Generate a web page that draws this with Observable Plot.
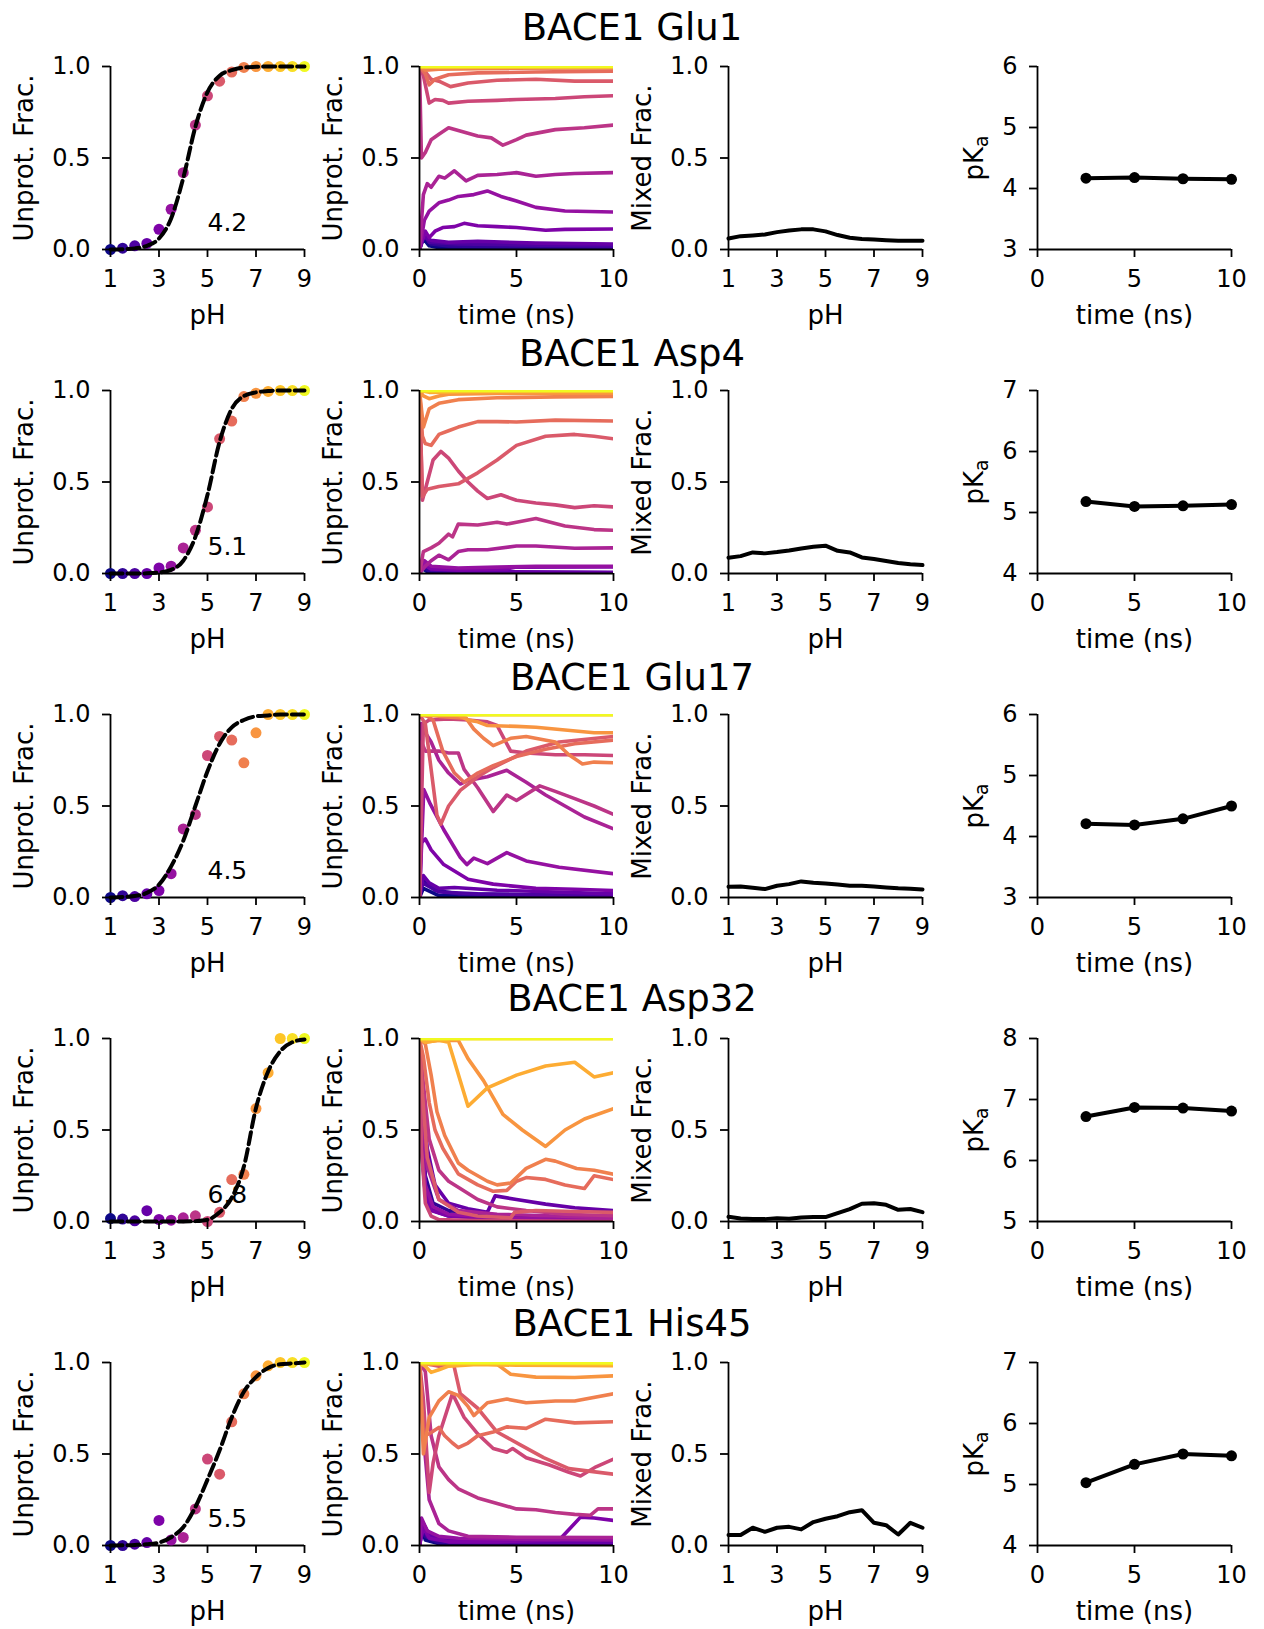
<!DOCTYPE html>
<html>
<head>
<meta charset="utf-8">
<script src="https://cdn.jsdelivr.net/npm/d3@7"></script>
<script src="https://cdn.jsdelivr.net/npm/@observablehq/plot@0.6"></script>
<style>
  body { margin: 0; background: #fff; font-family: "DejaVu Sans", sans-serif; }
  #fig { position: relative; width: 1264px; height: 1629px; overflow: hidden; background: #fff; }
  .title { position: absolute; left: 0; width: 1264px; text-align: center; font-size: 37px; line-height: 37px; color: #000; white-space: nowrap; }
  .panel { position: absolute; }
</style>
</head>
<body>
<div id="fig"></div>
<script>
// ---------------- DATA ----------------
const residues = ["BACE1 Glu1", "BACE1 Asp4", "BACE1 Glu17", "BACE1 Asp32", "BACE1 His45"];
const pKaLabels = ["4.2", "5.1", "4.5", "6.8", "5.5"];
const pHValues = [1, 1.5, 2, 2.5, 3, 3.5, 4, 4.5, 5, 5.5, 6, 6.5, 7, 7.5, 8, 8.5, 9];
const pHTicks = [1, 3, 5, 7, 9];
const fracTicks = [0, 0.5, 1];
const timeTicks = [0, 5, 10];

// Unprotonated fraction per pH (dots)
const glu1Unprot  = [0.0, 0.007, 0.02, 0.033, 0.11, 0.22, 0.42, 0.68, 0.84, 0.92, 0.97, 0.995, 1.0, 1.0, 1.0, 1.0, 1.0];
const asp4Unprot  = [0.0, 0.0, 0.0, 0.0, 0.03, 0.04, 0.14, 0.236, 0.364, 0.736, 0.833, 0.967, 0.985, 0.995, 1.0, 1.0, 1.0];
const glu17Unprot = [0.0, 0.01, 0.005, 0.02, 0.038, 0.13, 0.375, 0.454, 0.776, 0.88, 0.86, 0.736, 0.9, 1.0, 1.0, 1.0, 1.0];
const asp32Unprot = [0.016, 0.013, 0.004, 0.059, 0.011, 0.007, 0.02, 0.031, 0.0, 0.05, 0.229, 0.258, 0.617, 0.813, 1.0, 1.0, 1.0];
const his45Unprot = [0.0, 0.0, 0.007, 0.016, 0.137, 0.03, 0.044, 0.2, 0.472, 0.39, 0.676, 0.829, 0.927, 0.982, 1.0, 1.0, 1.0];

// Fitted titration curve read at each pH (dashed)
const glu1Fit  = [0.0, 0.002, 0.006, 0.02, 0.06, 0.17, 0.39, 0.67, 0.86, 0.95, 0.98, 0.995, 0.998, 1.0, 1.0, 1.0, 1.0];
const asp4Fit  = [0.0, 0.0, 0.0, 0.001, 0.005, 0.02, 0.07, 0.2, 0.43, 0.72, 0.9, 0.97, 0.99, 0.997, 1.0, 1.0, 1.0];
const glu17Fit = [0.0, 0.003, 0.008, 0.025, 0.07, 0.17, 0.31, 0.5, 0.69, 0.84, 0.93, 0.97, 0.99, 0.995, 1.0, 1.0, 1.0];
const asp32Fit = [0.0, 0.0, 0.0, 0.0, 0.0, 0.0, 0.0, 0.002, 0.01, 0.05, 0.13, 0.3, 0.62, 0.82, 0.93, 0.98, 0.995];
const his45Fit = [0.0, 0.001, 0.003, 0.007, 0.016, 0.045, 0.1, 0.21, 0.36, 0.52, 0.7, 0.84, 0.92, 0.97, 0.99, 0.995, 1.0];

// Mixed fraction per pH
const glu1Mixed  = [0.06, 0.073, 0.077, 0.082, 0.095, 0.104, 0.11, 0.11, 0.099, 0.079, 0.064, 0.057, 0.055, 0.051, 0.048, 0.048, 0.048];
const asp4Mixed  = [0.086, 0.095, 0.115, 0.11, 0.117, 0.126, 0.137, 0.146, 0.152, 0.124, 0.115, 0.088, 0.079, 0.068, 0.057, 0.05, 0.046];
const glu17Mixed = [0.059, 0.06, 0.053, 0.046, 0.064, 0.073, 0.088, 0.08, 0.077, 0.071, 0.064, 0.064, 0.06, 0.055, 0.05, 0.048, 0.044];
const asp32Mixed = [0.026, 0.016, 0.013, 0.013, 0.018, 0.015, 0.022, 0.024, 0.024, 0.046, 0.068, 0.097, 0.1, 0.091, 0.064, 0.068, 0.051];
const his45Mixed = [0.057, 0.057, 0.097, 0.075, 0.097, 0.102, 0.088, 0.128, 0.146, 0.16, 0.182, 0.193, 0.124, 0.111, 0.06, 0.124, 0.097];

// pKa vs simulation time
const pKaTimes = [2.5, 5, 7.5, 10];
const glu1PKa  = [4.17, 4.18, 4.16, 4.15];
const asp4PKa  = [5.18, 5.10, 5.11, 5.13];
const glu17PKa = [4.21, 4.19, 4.29, 4.50];
const asp32PKa = [6.72, 6.87, 6.86, 6.81];
const his45PKa = [5.03, 5.33, 5.50, 5.47];
const pKaDomains = [[3, 6], [4, 7], [3, 6], [5, 8], [4, 7]];

// Running unprotonated fraction vs time (ns), one series per pH: [time, value]
const glu1Traj = [
  [[0,0],[0.2,0.06],[0.5,0.02],[1,0.01],[3,0.005],[10,0.0]],
  [[0,0],[0.2,0.08],[0.6,0.03],[1.5,0.02],[4,0.015],[10,0.01]],
  [[0,0],[0.15,0.1],[0.5,0.04],[2,0.03],[5,0.025],[10,0.02]],
  [[0,0],[0.2,0.07],[0.6,0.05],[1.5,0.04],[3,0.045],[6,0.035],[10,0.03]],
  [[0,0],[0.3,0.1],[0.5,0.065],[0.8,0.1],[1.2,0.12],[1.8,0.125],[2.3,0.143],[3,0.13],[4,0.125],[5,0.12],[6.5,0.105],[7.5,0.11],[10,0.112]],
  [[0,0],[0.25,0.16],[0.5,0.21],[1,0.255],[1.5,0.27],[2,0.29],[2.8,0.3],[3.5,0.32],[4.2,0.29],[5,0.265],[6,0.23],[7.5,0.21],[10,0.205]],
  [[0,0],[0.2,0.3],[0.4,0.36],[0.6,0.34],[1,0.4],[1.3,0.39],[1.8,0.43],[2.4,0.375],[3,0.405],[4,0.41],[5,0.42],[6,0.4],[7,0.41],[8,0.415],[10,0.42]],
  [[0,1],[0.1,0.5],[0.3,0.53],[0.6,0.6],[1,0.63],[1.5,0.665],[2,0.65],[3,0.62],[3.7,0.61],[4.3,0.57],[5,0.6],[5.5,0.625],[7,0.655],[8.5,0.665],[10,0.68]],
  [[0,1],[0.2,0.95],[0.5,0.8],[0.8,0.82],[1.2,0.815],[1.5,0.8],[2.5,0.81],[4,0.815],[5,0.82],[7,0.825],[8.5,0.835],[10,0.84]],
  [[0,1],[0.3,0.97],[0.6,0.93],[1,0.92],[1.6,0.89],[2.5,0.91],[4,0.925],[6,0.93],[8,0.92],[10,0.92]],
  [[0,1],[0.3,0.96],[0.5,0.9],[0.8,0.93],[1.5,0.955],[3,0.965],[6,0.97],[10,0.975]],
  [[0,1],[0.3,0.98],[1,0.985],[4,0.99],[10,0.992]],
  [[0,1],[1,0.995],[10,0.998]],
  [[0,1],[10,1]],
  [[0,1],[10,1]],
  [[0,1],[10,1]],
  [[0,1],[10,1]]
];
const asp4Traj = [
  [[0,0],[0.1,0.03],[0.4,0.01],[2,0.003],[10,0]],
  [[0,0],[0.15,0.04],[0.5,0.015],[3,0.005],[10,0.002]],
  [[0,0],[0.2,0.05],[0.6,0.02],[3,0.008],[10,0.004]],
  [[0,0],[0.2,0.06],[0.8,0.025],[4,0.01],[10,0.006]],
  [[0,0],[0.2,0.05],[0.6,0.025],[2,0.02],[4.5,0.025],[5,0.035],[10,0.036]],
  [[0,0],[0.25,0.07],[0.6,0.04],[2,0.03],[4,0.035],[6,0.04],[10,0.04]],
  [[0,0],[0.3,0.04],[0.6,0.07],[1,0.1],[1.5,0.075],[2,0.12],[2.5,0.13],[3.5,0.13],[5,0.15],[6,0.15],[8,0.138],[10,0.14]],
  [[0,0],[0.2,0.12],[0.6,0.14],[1,0.165],[1.5,0.215],[1.7,0.2],[2,0.27],[3,0.265],[4,0.28],[4.5,0.27],[5,0.28],[6,0.3],[7.5,0.26],[9,0.24],[10,0.236]],
  [[0,1],[0.15,0.4],[0.4,0.5],[0.7,0.62],[1.1,0.667],[1.5,0.63],[2,0.56],[2.5,0.5],[3,0.45],[3.5,0.41],[4.2,0.43],[5,0.4],[6,0.385],[7,0.375],[8,0.36],[9,0.37],[10,0.364]],
  [[0,1],[0.15,0.42],[0.4,0.46],[1,0.475],[2,0.49],[2.5,0.52],[3,0.55],[4,0.62],[5,0.7],[6.5,0.75],[8,0.76],[9,0.75],[10,0.736]],
  [[0,1],[0.15,0.75],[0.3,0.71],[0.6,0.7],[1,0.76],[1.5,0.78],[2,0.8],[3,0.83],[4,0.83],[5,0.828],[7,0.838],[10,0.833]],
  [[0,1],[0.2,0.8],[0.5,0.9],[1,0.93],[2,0.95],[4,0.96],[7,0.965],[10,0.967]],
  [[0,1],[0.2,0.97],[0.5,0.955],[1,0.97],[1.5,0.98],[4,0.984],[10,0.985]],
  [[0,1],[0.5,0.99],[3,0.994],[10,0.995]],
  [[0,1],[10,1]],
  [[0,1],[10,1]],
  [[0,1],[10,1]]
];
const glu17Traj = [
  [[0,0],[0.2,0.05],[1,0.01],[10,0]],
  [[0,0],[0.2,0.1],[0.8,0.04],[2,0.02],[10,0.01]],
  [[0,0],[0.15,0.08],[1,0.03],[3,0.02],[10,0.008]],
  [[0,0],[0.2,0.12],[0.5,0.08],[1,0.05],[1.8,0.055],[4,0.04],[7,0.03],[10,0.02]],
  [[0,0],[0.1,0.3],[0.3,0.32],[0.6,0.26],[1.25,0.18],[2.5,0.1],[3.8,0.073],[6,0.05],[8,0.045],[10,0.038]],
  [[0,0],[0.22,0.59],[0.56,0.51],[1.25,0.37],[2.1,0.22],[2.44,0.18],[2.8,0.215],[3.5,0.185],[4.5,0.245],[5.5,0.2],[7.2,0.165],[10,0.13]],
  [[0,0],[0.1,0.95],[0.3,0.9],[0.6,0.85],[1,0.75],[1.5,0.68],[2.1,0.62],[2.5,0.64],[3.5,0.66],[4.5,0.695],[5.5,0.63],[6.5,0.56],[7.5,0.5],[8.5,0.44],[10,0.375]],
  [[0,0],[0.1,0.85],[0.3,0.8],[0.6,0.8],[1,0.8],[1.5,0.79],[2,0.79],[2.3,0.7],[3,0.6],[3.8,0.47],[4.5,0.56],[5,0.53],[6.2,0.61],[7,0.58],[8,0.54],[9,0.5],[10,0.454]],
  [[0,0],[0.2,0.95],[0.5,0.97],[1.5,0.975],[2.5,0.97],[3.5,0.96],[4,0.94],[4.7,0.8],[5.5,0.79],[7,0.78],[8.5,0.78],[10,0.776]],
  [[0,1],[0.3,0.95],[0.6,0.7],[0.9,0.45],[1.1,0.4],[1.5,0.5],[2.1,0.585],[3,0.66],[3.8,0.71],[5.5,0.8],[7.2,0.85],[10,0.88]],
  [[0,1],[0.4,0.99],[0.7,0.97],[1.2,0.8],[1.8,0.68],[2.3,0.63],[3,0.68],[3.8,0.72],[5,0.77],[6.5,0.81],[8,0.84],[10,0.86]],
  [[0,1],[1,0.99],[2.4,0.98],[2.8,0.92],[3.3,0.87],[3.8,0.83],[4.7,0.87],[5.5,0.88],[7,0.85],[7.7,0.78],[8.4,0.73],[9,0.74],[10,0.736]],
  [[0,1],[2,0.995],[2.5,0.97],[3,0.96],[3.5,0.94],[5,0.935],[6,0.93],[7.5,0.915],[9,0.9],[10,0.9]],
  [[0,1],[10,1]],
  [[0,1],[10,1]],
  [[0,1],[10,1]],
  [[0,1],[10,1]]
];
const asp32Traj = [
  [[0,1],[0.1,0.5],[0.3,0.2],[0.6,0.08],[1,0.05],[2,0.035],[4,0.025],[7,0.02],[10,0.016]],
  [[0,1],[0.1,0.6],[0.3,0.25],[0.7,0.1],[1.5,0.06],[3,0.04],[6,0.025],[10,0.013]],
  [[0,1],[0.1,0.4],[0.3,0.15],[0.7,0.06],[1.5,0.03],[4,0.015],[10,0.004]],
  [[0,1],[0.15,0.7],[0.4,0.4],[0.8,0.2],[1.5,0.1],[2.5,0.07],[3.5,0.05],[3.9,0.14],[5,0.12],[6.5,0.095],[8,0.075],[10,0.059]],
  [[0,1],[0.1,0.45],[0.3,0.15],[0.6,0.06],[1.5,0.03],[4,0.015],[10,0.011]],
  [[0,1],[0.1,0.5],[0.3,0.2],[0.7,0.08],[1.5,0.04],[4,0.02],[10,0.007]],
  [[0,1],[0.15,0.6],[0.4,0.3],[1,0.12],[2,0.06],[4,0.04],[7,0.03],[10,0.02]],
  [[0,1],[0.2,0.75],[0.5,0.45],[1,0.28],[1.5,0.22],[2.1,0.18],[3,0.12],[4,0.08],[5.5,0.06],[7.5,0.04],[10,0.031]],
  [[0,1],[0.1,0.4],[0.3,0.1],[0.6,0.03],[1,0.01],[3,0.005],[10,0.0]],
  [[0,1],[0.15,0.7],[0.4,0.35],[1,0.12],[2,0.05],[3,0.03],[4.7,0.02],[4.9,0.05],[6,0.06],[8,0.055],[10,0.05]],
  [[0,1],[0.2,0.9],[0.5,0.65],[0.8,0.5],[1.2,0.4],[2,0.26],[3,0.2],[3.8,0.165],[4.5,0.17],[5,0.22],[5.5,0.24],[6.5,0.23],[7.5,0.2],[8.5,0.18],[9,0.25],[10,0.229]],
  [[0,1],[0.3,0.97],[0.6,0.8],[0.9,0.6],[1.3,0.47],[2,0.32],[2.5,0.28],[3.5,0.22],[4,0.2],[4.7,0.21],[5.2,0.26],[5.5,0.29],[6.5,0.34],[7,0.33],[8.1,0.29],[9,0.28],[10,0.258]],
  [[0,1],[0.3,0.98],[1,0.99],[2,0.99],[2.5,0.89],[3.3,0.77],[4.3,0.585],[5.3,0.5],[6.5,0.41],[7.5,0.5],[8.5,0.56],[10,0.617]],
  [[0,1],[0.3,0.98],[1,0.99],[1.5,0.98],[2.5,0.63],[3.5,0.73],[5,0.8],[6.5,0.85],[8,0.87],[9,0.79],[10,0.813]],
  [[0,1],[10,1]],
  [[0,1],[10,1]],
  [[0,1],[10,1]]
];
const his45Traj = [
  [[0,0],[0.1,0.1],[0.3,0.03],[1,0.01],[10,0]],
  [[0,0],[0.1,0.12],[0.3,0.05],[1,0.015],[10,0.003]],
  [[0,0],[0.15,0.1],[0.4,0.05],[1.5,0.02],[10,0.007]],
  [[0,0],[0.2,0.12],[0.5,0.06],[1.5,0.03],[5,0.02],[10,0.016]],
  [[0,0],[0.2,0.1],[0.5,0.04],[1.5,0.02],[4,0.02],[7.2,0.03],[8.3,0.155],[9,0.15],[10,0.137]],
  [[0,0],[0.1,0.15],[0.4,0.08],[1,0.05],[2,0.04],[5,0.035],[10,0.03]],
  [[0,1],[0.2,0.6],[0.5,0.25],[1,0.12],[1.5,0.08],[2.5,0.05],[5,0.045],[10,0.044]],
  [[0,1],[0.3,0.95],[0.6,0.6],[1,0.43],[1.5,0.36],[2,0.31],[3,0.26],[4,0.23],[5,0.2],[6,0.195],[7,0.18],[8,0.17],[8.8,0.165],[9.2,0.2],[10,0.2]],
  [[0,1],[0.2,0.8],[0.5,0.29],[0.7,0.45],[1,0.6],[1.7,0.83],[2.3,0.7],[3,0.61],[3.8,0.53],[4.5,0.51],[4.8,0.53],[5.5,0.48],[6.7,0.44],[7.7,0.4],[8.3,0.38],[9.1,0.43],[10,0.472]],
  [[0,1],[1,0.98],[1.76,0.99],[2.1,0.83],[3,0.75],[4,0.62],[5.2,0.55],[6.4,0.48],[7.7,0.42],[10,0.39]],
  [[0,1],[0.2,0.6],[0.5,0.61],[1,0.645],[1.3,0.6],[1.7,0.56],[2,0.535],[2.5,0.56],[3,0.6],[3.8,0.62],[4.5,0.648],[5.5,0.64],[6.5,0.69],[8,0.67],[10,0.676]],
  [[0,1],[0.2,0.5],[0.5,0.7],[1,0.79],[1.5,0.84],[2,0.82],[2.5,0.76],[2.8,0.71],[3.5,0.78],[4.5,0.8],[5.5,0.78],[7,0.79],[8,0.79],[10,0.829]],
  [[0,1],[0.5,0.99],[2,0.995],[4,0.99],[4.7,0.936],[6,0.92],[8,0.918],[10,0.927]],
  [[0,1],[0.3,0.98],[0.6,0.946],[1,0.96],[1.5,0.98],[3,0.99],[5,0.985],[10,0.982]],
  [[0,1],[1,0.995],[10,0.995]],
  [[0,1],[10,0.995]],
  [[0,1],[10,1]]
];

const unprotRows = [glu1Unprot, asp4Unprot, glu17Unprot, asp32Unprot, his45Unprot];
const fitRows = [glu1Fit, asp4Fit, glu17Fit, asp32Fit, his45Fit];
const mixedRows = [glu1Mixed, asp4Mixed, glu17Mixed, asp32Mixed, his45Mixed];
const pKaRows = [glu1PKa, asp4PKa, glu17PKa, asp32PKa, his45PKa];
const trajRows = [glu1Traj, asp4Traj, glu17Traj, asp32Traj, his45Traj];

// ---------------- LAYOUT ----------------
const W = 330, H = 299, ML = 110, MR = 26, MT = 20, MB = 96;
const colLefts = [109.5, 418.5, 727.5, 1036.5];
const rowTop0 = 66, rowStep = 324;
const titleCenters = [27, 353, 677, 998, 1323];
const fig = document.getElementById("fig");
const f1 = d3.format(".1f");
const FONT = "'DejaVu Sans', sans-serif";

function panel({xDomain, xTicks, xFormat, yDomain, yTicks, yFormat, xLabel, yLabel, yLabelOffset, marks, spinesOnTop}) {
  const spines = [
    Plot.ruleX([xDomain[0]], {stroke: "#000", strokeWidth: 1.8}),
    Plot.ruleY([yDomain[0]], {stroke: "#000", strokeWidth: 1.8})
  ];
  return Plot.plot({
    width: W, height: H, marginLeft: ML, marginRight: MR, marginTop: MT, marginBottom: MB,
    style: {background: "none", overflow: "visible", fontFamily: FONT, fontSize: "24px", color: "#000", maxWidth: "none"},
    x: {domain: xDomain},
    y: {domain: yDomain},
    color: {type: "linear", scheme: "plasma", domain: [1, 9]},
    marks: [
      ...(spinesOnTop ? [] : spines),
      ...marks,
      ...(spinesOnTop ? spines : []),
      Plot.axisX({ticks: xTicks, tickFormat: xFormat, tickSize: 8, tickPadding: 12, strokeWidth: 1.8, fontSize: 24, label: null}),
      Plot.axisY({ticks: yTicks, tickFormat: yFormat, tickSize: 8, tickPadding: 12, strokeWidth: 1.8, fontSize: 24, label: null}),
      Plot.text([xLabel], {text: d => d, frameAnchor: "bottom", textAnchor: "middle", lineAnchor: "middle", dy: 66, fontSize: 26, fill: "#000"}),
      Plot.text([yLabel], {text: d => d, frameAnchor: "left", textAnchor: "middle", lineAnchor: "middle", dx: -yLabelOffset, rotate: -90, fontSize: 26, fill: "#000"})
    ]
  });
}

function place(svg, col, row) {
  svg.classList.add("panel");
  svg.style.left = (colLefts[col] - ML) + "px";
  svg.style.top = (rowTop0 + row * rowStep - MT) + "px";
  fig.appendChild(svg);
}

residues.forEach((name, r) => {
  const t = document.createElement("div");
  t.className = "title";
  t.textContent = name;
  t.style.top = (titleCenters[r] - 18) + "px";
  fig.appendChild(t);

  // Column A: titration
  const dots = pHValues.map((pH, i) => ({pH, u: unprotRows[r][i]}));
  const fit = pHValues.map((pH, i) => ({pH, f: fitRows[r][i]}));
  place(panel({
    xDomain: [1, 9], xTicks: pHTicks, xFormat: d3.format("d"),
    yDomain: [0, 1], yTicks: fracTicks, yFormat: f1,
    xLabel: "pH", yLabel: "Unprot. Frac.", yLabelOffset: 86,
    marks: [
      Plot.dot(dots, {x: "pH", y: "u", fill: "pH", r: 5.5}),
      Plot.line(fit, {x: "pH", y: "f", stroke: "#000", strokeWidth: 4, strokeDasharray: "12,5", curve: "monotone-x"}),
      Plot.text([{pH: 5, u: 0.1, label: pKaLabels[r]}], {x: "pH", y: "u", text: "label", textAnchor: "start", lineAnchor: "bottom", fontSize: 25, fill: "#000"})
    ]
  }), 0, r);

  // Column B: trajectories
  const traj = [];
  trajRows[r].forEach((series, i) => series.forEach(([tm, v]) => traj.push({pH: pHValues[i], t: tm, v})));
  place(panel({
    xDomain: [0, 10], xTicks: timeTicks, xFormat: d3.format("d"),
    yDomain: [0, 1], yTicks: fracTicks, yFormat: f1,
    xLabel: "time (ns)", yLabel: "Unprot. Frac.", yLabelOffset: 86, spinesOnTop: true,
    marks: [
      Plot.line(traj, {x: "t", y: "v", z: "pH", stroke: "pH", strokeWidth: 3.6, clip: true})
    ]
  }), 1, r);

  // Column C: mixed fraction
  const mixed = pHValues.map((pH, i) => ({pH, m: mixedRows[r][i]}));
  place(panel({
    xDomain: [1, 9], xTicks: pHTicks, xFormat: d3.format("d"),
    yDomain: [0, 1], yTicks: fracTicks, yFormat: f1,
    xLabel: "pH", yLabel: "Mixed Frac.", yLabelOffset: 86,
    marks: [
      Plot.line(mixed, {x: "pH", y: "m", stroke: "#000", strokeWidth: 4})
    ]
  }), 2, r);

  // Column D: pKa vs time
  const pk = pKaTimes.map((tm, i) => ({t: tm, p: pKaRows[r][i]}));
  const dom = pKaDomains[r];
  const svgD = panel({
    xDomain: [0, 10], xTicks: timeTicks, xFormat: d3.format("d"),
    yDomain: dom, yTicks: d3.range(dom[0], dom[1] + 1), yFormat: d3.format("d"),
    xLabel: "time (ns)", yLabel: "pKa", yLabelOffset: 63,
    marks: [
      Plot.line(pk, {x: "t", y: "p", stroke: "#000", strokeWidth: 4}),
      Plot.dot(pk, {x: "t", y: "p", fill: "#000", r: 5.5})
    ]
  });
  d3.select(svgD).selectAll("text").filter(function () { return this.textContent === "pKa"; }).each(function () {
    const s = d3.select(this);
    s.text(null);
    s.append("tspan").text("pK");
    s.append("tspan").attr("dy", "0.3em").attr("font-size", "0.72em").text("a");
  });
  place(svgD, 3, r);
});
</script>
</body>
</html>
